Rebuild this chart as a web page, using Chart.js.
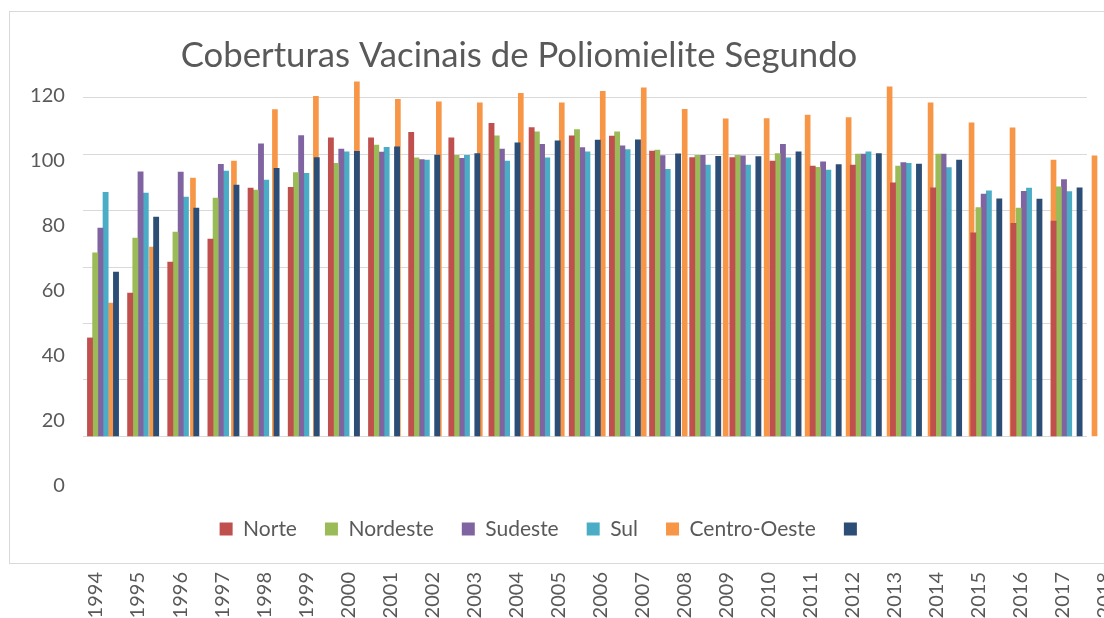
<!DOCTYPE html>
<html>
<head>
<meta charset="utf-8">
<script src="https://cdn.jsdelivr.net/npm/chart.js@4.4.1/dist/chart.umd.min.js"></script>
<style>
  html, body { margin: 0; padding: 0; background: #ffffff; }
  #wrap { width: 1104px; height: 618px; position: relative; overflow: hidden; }
</style>
</head>
<body>
<div id="wrap"><canvas id="c" width="1104" height="618"></canvas></div>
<script>
// ---- data ----
const years = ['1994','1995','1996','1997','1998','1999','2000','2001','2002','2003','2004','2005','2006',
               '2007','2008','2009','2010','2011','2012','2013','2014','2015','2016','2017','2018'];
const norte       = [34.9, 50.8, 61.8, 69.9, 88.0, 88.2, 105.8, 105.8, 107.7, 105.8, 110.9, 109.4, 106.5,
                     106.4, 101.1, 98.8, 98.8, 97.5, 95.8, 96.1, 89.8, 88.1, 72.1, 75.5, 76.3];
const nordeste    = [65.0, 70.3, 72.4, 84.4, 87.3, 93.5, 96.7, 103.2, 98.7, 99.6, 106.5, 107.9, 108.7,
                     107.9, 101.4, 99.6, 99.6, 100.2, 95.3, 100.0, 95.8, 100.0, 81.1, 80.9, 88.4];
const sudeste     = [73.8, 93.7, 93.6, 96.4, 103.6, 106.6, 101.8, 100.7, 98.1, 98.5, 101.8, 103.5, 102.3,
                     102.9, 99.5, 99.6, 99.4, 103.5, 97.3, 100.0, 97.0, 100.0, 85.8, 86.8, 91.0];
const sul         = [86.5, 86.2, 84.8, 94.0, 90.8, 93.2, 100.8, 102.4, 97.9, 99.6, 97.5, 98.7, 100.8,
                     101.6, 94.6, 96.1, 96.1, 98.7, 94.3, 100.8, 96.7, 95.2, 87.0, 88.0, 86.7];
const centroOeste = [47.2, 67.1, 91.5, 97.5, 115.8, 120.5, 125.6, 119.4, 118.5, 118.2, 121.5, 118.2, 122.2,
                     123.5, 115.9, 112.5, 112.6, 113.8, 112.9, 123.8, 118.2, 111.1, 109.3, 97.9, 99.4];
const semNome     = [58.2, 77.7, 80.9, 89.0, 95.0, 98.8, 101.0, 102.6, 99.7, 100.2, 104.0, 104.7, 105.0,
                     105.1, 100.1, 99.2, 99.1, 100.8, 96.3, 100.2, 96.5, 97.9, 84.2, 84.1, 88.1];
const yTickValues = [0, 20, 40, 60, 80, 100, 120];
const titleText = 'Coberturas Vacinais de Poliomielite Segundo';

// ---- styles ----
const textGray = '#595959';
const gridGray = '#d9d9d9';
const FONT = 'Lato';

const frame = {
  id: 'frame',
  afterLayout(chart) {
    const t = chart.titleBlock;
    if (t) { t.left -= 24.5; t.right -= 24.5; }
  },
  beforeDraw(chart) {
    const ctx = chart.ctx;
    ctx.save();
    ctx.fillStyle = '#ffffff';
    ctx.fillRect(0, 0, chart.width, chart.height);
    ctx.strokeStyle = gridGray;
    ctx.lineWidth = 1;
    ctx.strokeRect(9.5, 11.5, 1200, 552);
    ctx.restore();
  }
};

const toPoints = (arr) => arr.map((v, i) => ({ x: i, y: v }));
const barOpts = { borderWidth: 0, barThickness: 5.2, clip: false, xAxisID: 'x', yAxisID: 'y' };
const setTicks = (vals) => (axis) => { axis.ticks = vals.map(v => ({ value: v })); };

new Chart(document.getElementById('c'), {
  type: 'bar',
  plugins: [frame],
  data: {
    datasets: [
      Object.assign({ label: 'Norte', data: toPoints(norte), backgroundColor: '#C0504D' }, barOpts),
      Object.assign({ label: 'Nordeste', data: toPoints(nordeste), backgroundColor: '#9BBB59' }, barOpts),
      Object.assign({ label: 'Sudeste', data: toPoints(sudeste), backgroundColor: '#8064A2' }, barOpts),
      Object.assign({ label: 'Sul', data: toPoints(sul), backgroundColor: '#4BACC6' }, barOpts),
      { label: 'Centro-Oeste', data: toPoints(centroOeste), backgroundColor: '#F79646',
        borderWidth: 0, barThickness: 5, clip: false, xAxisID: 'x2', yAxisID: 'y', order: 1 },
      Object.assign({ label: '__gap', data: years.map((y, i) => ({ x: i, y: null })), backgroundColor: 'rgba(0,0,0,0)' }, barOpts),
      Object.assign({ label: '', data: toPoints(semNome), backgroundColor: '#2C4D75' }, barOpts)
    ]
  },
  options: {
    responsive: false,
    animation: false,
    events: [],
    layout: { padding: { left: 0, right: 17, top: 0, bottom: 0 } },
    scales: {
      x: { type: 'linear', display: false, offset: false, min: -0.8892, max: 24.120 },
      x2: { type: 'linear', display: false, offset: false, min: -0.6247, max: 23.878 },
      x3: {
        type: 'linear', position: 'bottom', offset: false, weight: 2000,
        min: -0.3116, max: 23.573,
        afterBuildTicks: setTicks(years.map((y, i) => i)),
        afterFit(s) { s.height = 68.5; s.paddingLeft = 0; s.paddingRight = 0; },
        grid: { display: false, drawTicks: false }, border: { display: false },
        ticks: {
          autoSkip: false, minRotation: 90, maxRotation: 90, padding: 22.5,
          color: textGray, font: { family: FONT, size: 20 },
          callback: (v) => years[v]
        }
      },
      y: {
        type: 'linear', position: 'left', min: -19.14, max: 120,
        afterBuildTicks: setTicks(yTickValues),
        afterFit(s) { s.width = 0; s.paddingTop = 0; s.paddingBottom = 0; },
        grid: { color: gridGray, lineWidth: 1, drawTicks: false },
        border: { display: false },
        ticks: { display: false }
      },
      y2: {
        type: 'linear', position: 'left', min: -1.385, max: 119.38,
        afterBuildTicks: setTicks(yTickValues),
        afterFit(s) { s.width = 82.9; s.paddingTop = 0; s.paddingBottom = 0; },
        grid: { display: false, drawTicks: false }, border: { display: false },
        ticks: { padding: 18, color: textGray, font: { family: FONT, size: 20 } }
      }
    },
    plugins: {
      title: {
        display: true, text: titleText, color: textGray,
        font: { family: FONT, size: 34.7, weight: 'normal' },
        padding: { top: 35, bottom: 21 }
      },
      legend: {
        position: 'bottom',
        labels: {
          color: textGray, font: { family: FONT, size: 21 },
          boxWidth: 13, boxHeight: 13, padding: 28,
          filter: (item) => item.text !== '__gap',
          sort: (a, b) => a.datasetIndex - b.datasetIndex
        }
      },
      tooltip: { enabled: false }
    }
  }
});
</script>
</body>
</html>
